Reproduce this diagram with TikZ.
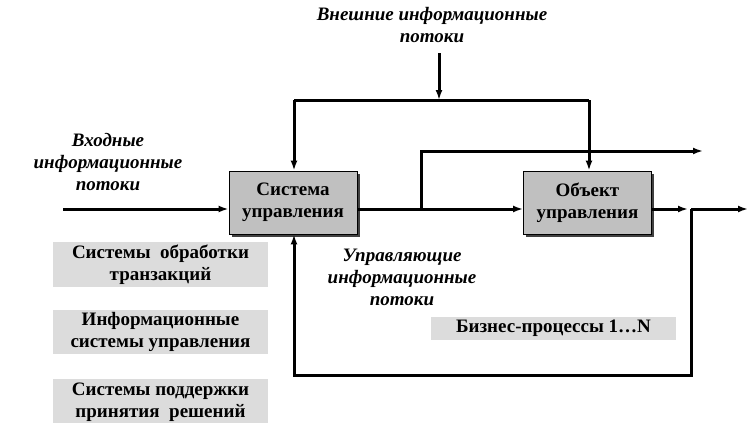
\documentclass[tikz,border=0pt]{standalone}
\usepackage{fontspec}
\setmainfont{Liberation Serif}
\usetikzlibrary{arrows.meta,shadows}
\definecolor{boxgray}{RGB}{192,192,192}
\definecolor{lightgray}{RGB}{220,220,220}
\tikzset{
  flow/.style={line width=3pt},
  tip/.style={-{Latex[length=10pt,width=7pt]}},
  mainbox/.style={draw=black,line width=0.9pt,fill=boxgray,minimum width=128pt,minimum height=63pt,
    align=center,font=\fontsize{19}{22}\selectfont\bfseries,inner sep=0pt,
    drop shadow={shadow xshift=2.5pt,shadow yshift=-2.5pt,fill=black!75,opacity=1}},
  graybox/.style={fill=lightgray,align=center,inner sep=0pt,font=\fontsize{19}{22}\selectfont\bfseries},
  itlabel/.style={align=center,inner sep=0pt,font=\fontsize{19}{22}\selectfont\bfseries\itshape}
}
\begin{document}
\begin{tikzpicture}[x=1pt,y=-1pt]
\useasboundingbox (0,0) rectangle (753,423);
% main boxes
\node[mainbox] (sys) at (293,202.5) {Система\\управления};
\node[mainbox] (obj) at (587.5,202.5) {Объект\\управления};
% gray boxes
\node[graybox,minimum width=215pt,minimum height=45pt] (g1) at (160.5,264.5) {Системы~ обработки\\транзакций};
\node[graybox,minimum width=215pt,minimum height=44pt] (g2) at (160.5,332) {Информационные\\системы управления};
\node[graybox,minimum width=215pt,minimum height=46pt] (g3) at (160.5,402) {Системы поддержки\\принятия~ решений};
\node[graybox,minimum width=245pt,minimum height=23pt] (bp) at (553.5,328.5) {Бизнес-процессы 1…N};
% labels
\node[itlabel] (lext) at (432,25) {Внешние информационные\\потоки};
\node[itlabel] (lin) at (108,162) {Входные\\информационные\\потоки};
\node[itlabel] (lctl) at (402,277) {Управляющие\\информационные\\потоки};
% coordinates
\coordinate (in) at (63,209);
\coordinate (br) at (421,209);
\coordinate (brout) at (703,151);
\coordinate (ext) at (439,53);
\coordinate (topL) at (294,100);
\coordinate (topR) at (589,100);
\coordinate (extend) at (439,100);
\coordinate (outend) at (688,209);
\coordinate (junc) at (691,209);
\coordinate (far) at (748,209);
\coordinate (loopR) at (691,375);
\coordinate (loopL) at (294,375);
% connectors
\draw[flow,tip] (in) -- (in -| sys.west);
\draw[flow,tip] (sys.east |- in) -- (obj.west |- in);
\draw[flow,tip] (br) |- (brout);
\draw[flow,tip] (ext) -- (extend);
\draw[flow] (topL) -- (topR);
\draw[flow,tip] (topL) -- (topL |- sys.north);
\draw[flow,tip] (topR) -- (topR |- obj.north);
\draw[flow,tip] (obj.east |- in) -- (outend);
\draw[flow,tip] (junc) -- (far);
\draw[flow,tip] (junc) -- (loopR) -- (loopL) -- (loopL |- sys.south);
\end{tikzpicture}
\end{document}
